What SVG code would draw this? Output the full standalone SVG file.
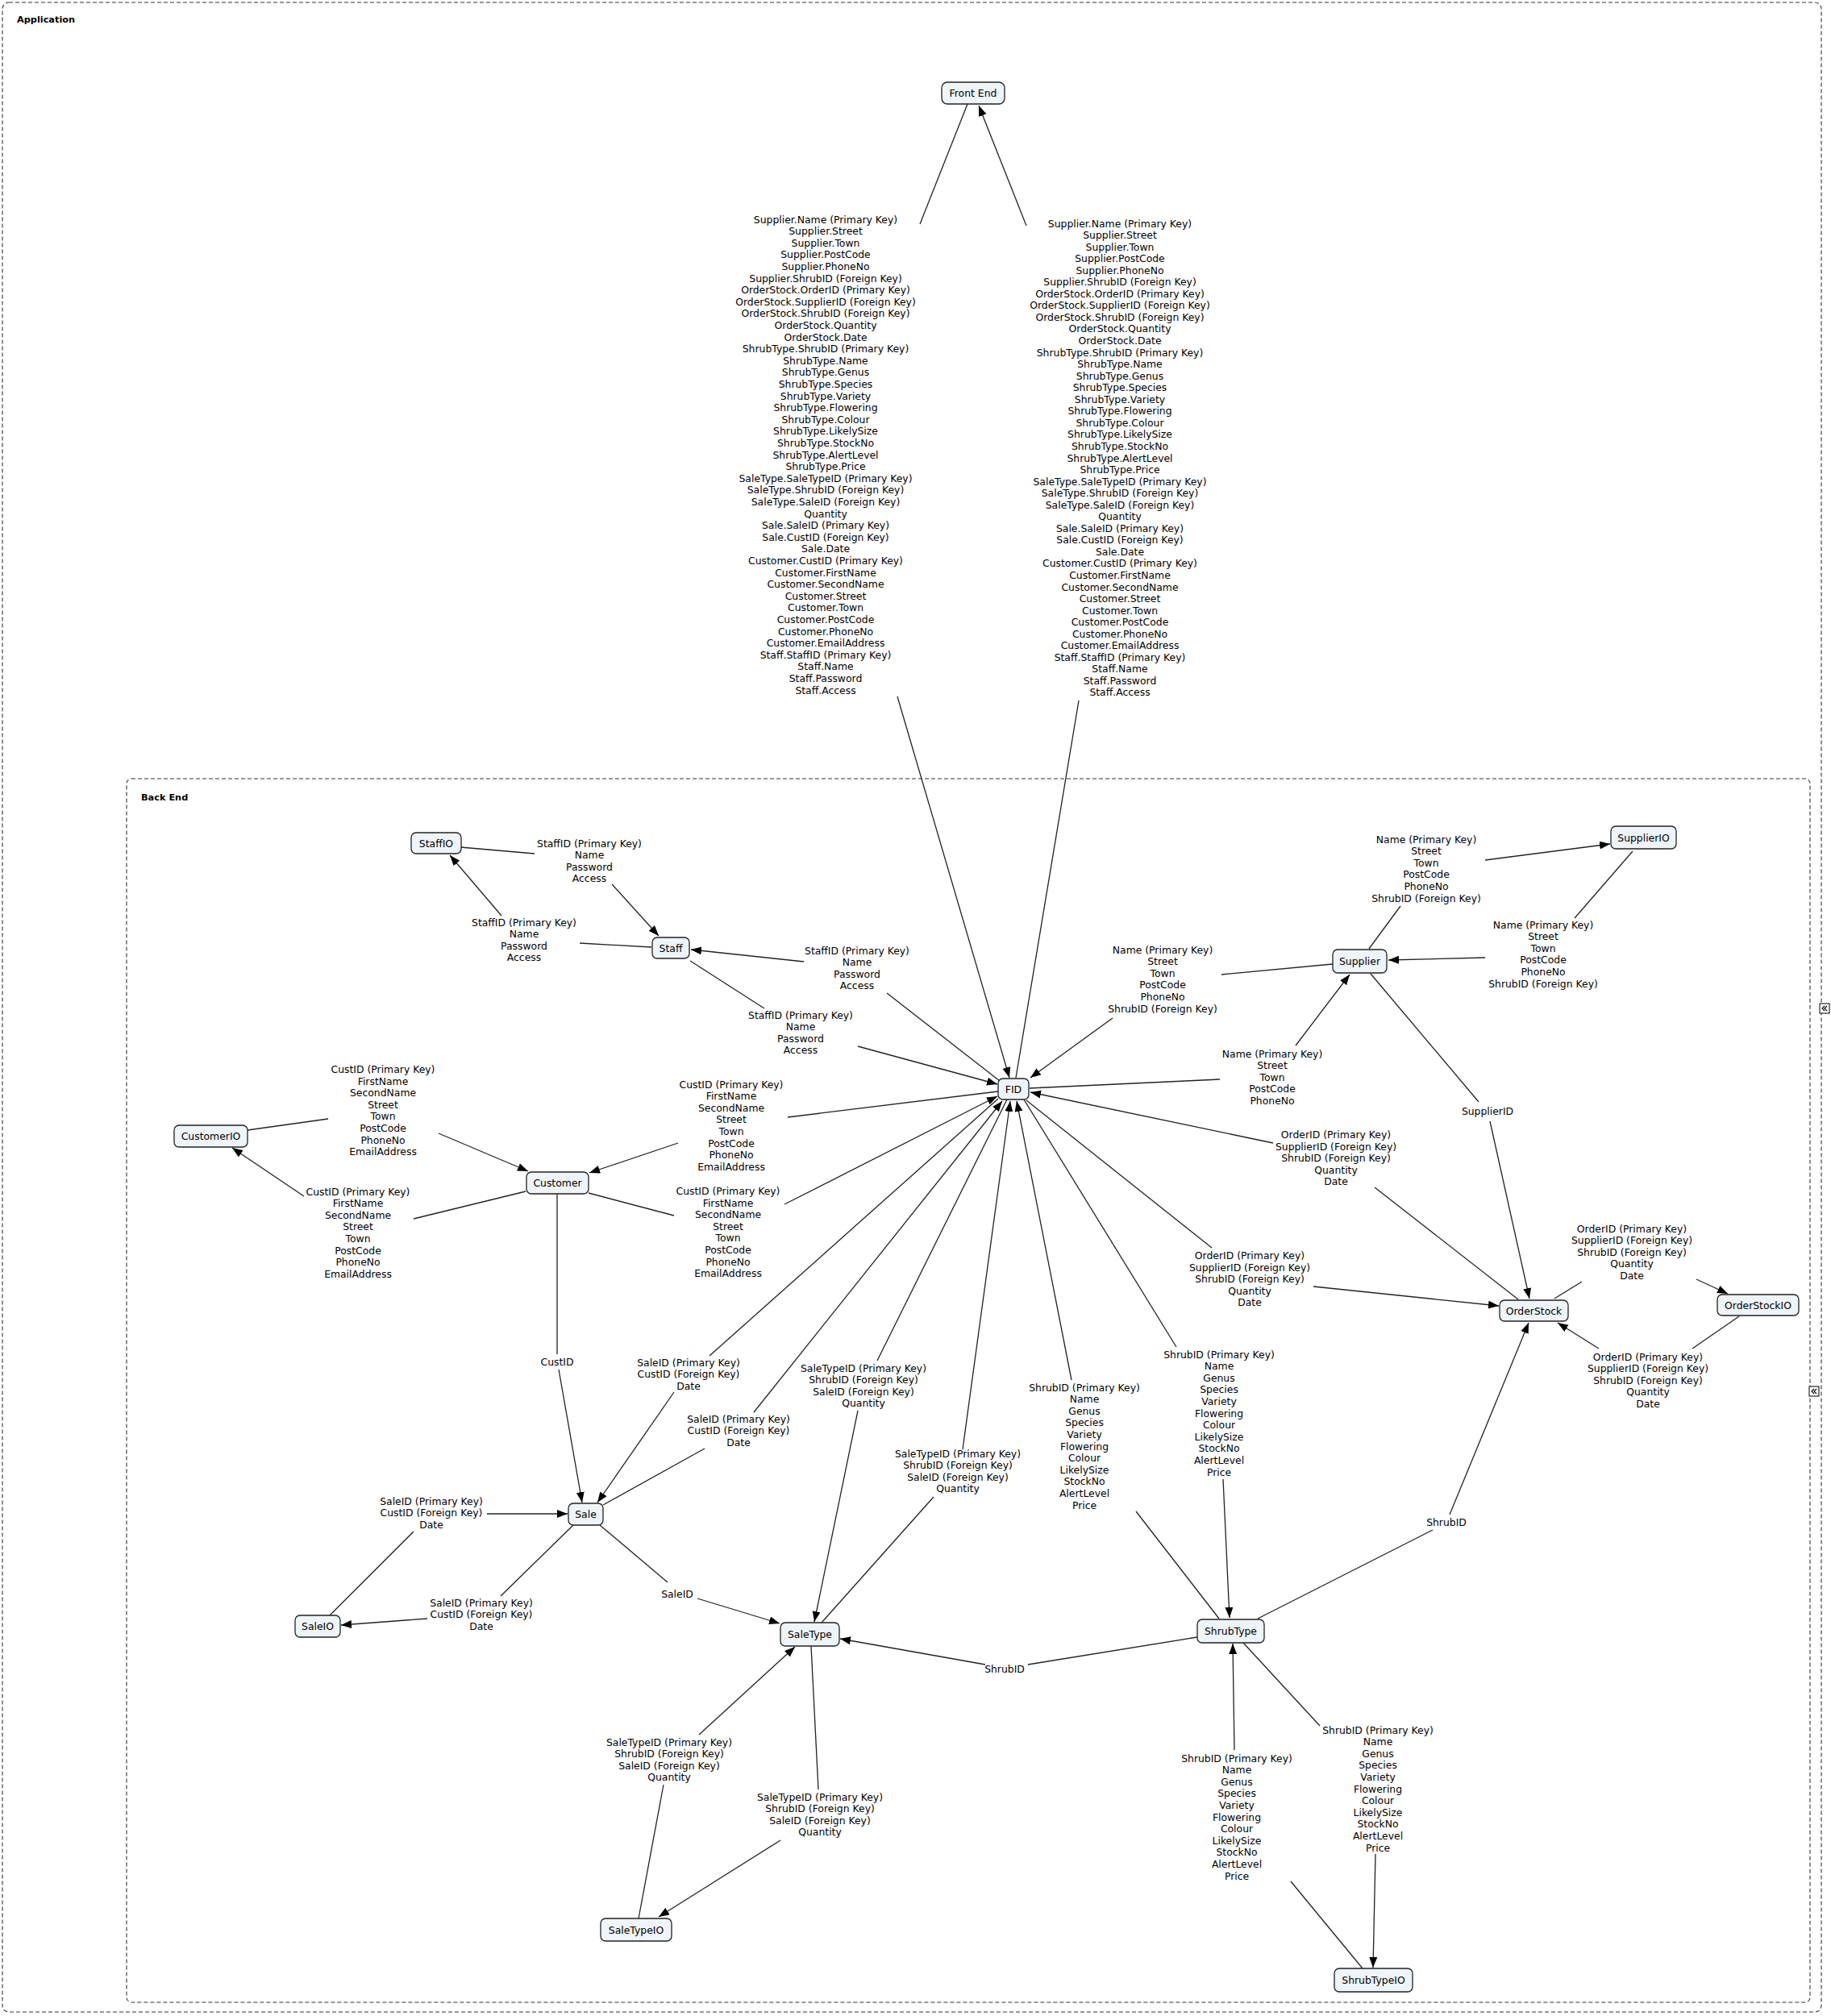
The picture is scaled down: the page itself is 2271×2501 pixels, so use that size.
<svg xmlns="http://www.w3.org/2000/svg" width="2271" height="2501" viewBox="0 0 2271 2501">
<style>
text{font-family:"DejaVu Sans","Liberation Sans",sans-serif;font-size:12.4px;fill:#000;text-anchor:middle}
.frame{fill:none;stroke:#333;stroke-width:1.1;stroke-dasharray:5,3}
.ft{font-weight:bold;font-size:11.3px;text-anchor:start}
.node rect{fill:#eef4f7;stroke:#222;stroke-width:1.3}
.c line{stroke:#222;stroke-width:1.3}
.a{marker-end:url(#ah)}
.ic{fill:#fff;stroke:#000;stroke-width:1}
.ch{fill:none;stroke:#000;stroke-width:1.1}
</style>
<defs>
<marker id="ah" markerUnits="userSpaceOnUse" markerWidth="14" markerHeight="11" refX="13" refY="5" orient="auto">
<path d="M0,0 L13,5 L0,10 z" fill="#000"/>
</marker>
</defs>
<rect fill="#fff" x="0" y="0" width="2271" height="2501"/>
<g id="frame-application">
<rect class="frame" x="3" y="3" width="2256" height="2493" rx="8"/>
<text class="ft" x="21" y="28">Application</text>
<rect class="ic" x="2257" y="1245" width="12" height="12"/>
<polyline class="ch" points="2263,1248 2260,1251 2263,1254"/>
<polyline class="ch" points="2266,1248 2263,1251 2266,1254"/>
</g>
<g id="frame-backend">
<rect class="frame" x="157" y="966" width="2088" height="1518" rx="6"/>
<text class="ft" x="175" y="993">Back End</text>
<rect class="ic" x="2244" y="1720" width="12" height="12"/>
<polyline class="ch" points="2250,1723 2247,1726 2250,1729"/>
<polyline class="ch" points="2253,1723 2250,1726 2253,1729"/>
</g>
<g id="connectors" class="c">
<line x1="1200" y1="129" x2="1141" y2="278"/>
<line class="a" x1="1113" y1="864" x2="1252" y2="1337"/>
<line x1="1260" y1="1337" x2="1338" y2="869"/>
<line class="a" x1="1273" y1="280" x2="1214" y2="131"/>
<line x1="571" y1="1051" x2="663" y2="1059"/>
<line class="a" x1="759" y1="1097" x2="817" y2="1161"/>
<line x1="808" y1="1175" x2="719" y2="1170"/>
<line class="a" x1="622" y1="1136" x2="558" y2="1061"/>
<line x1="1240" y1="1341" x2="1100" y2="1232"/>
<line class="a" x1="997" y1="1193" x2="857" y2="1178"/>
<line x1="856" y1="1192" x2="948" y2="1251"/>
<line class="a" x1="1064" y1="1298" x2="1237" y2="1345"/>
<line x1="1698" y1="1177" x2="1737" y2="1124"/>
<line class="a" x1="1842" y1="1067" x2="1997" y2="1047"/>
<line x1="2025" y1="1056" x2="1953" y2="1139"/>
<line class="a" x1="1842" y1="1188" x2="1722" y2="1191"/>
<line x1="1653" y1="1196" x2="1515" y2="1209"/>
<line class="a" x1="1380" y1="1263" x2="1278" y2="1337"/>
<line x1="1277" y1="1350" x2="1513" y2="1339"/>
<line class="a" x1="1607" y1="1297" x2="1674" y2="1209"/>
<line x1="1700" y1="1208" x2="1834" y2="1367"/>
<line class="a" x1="1848" y1="1391" x2="1897" y2="1611"/>
<line x1="1883" y1="1612" x2="1705" y2="1473"/>
<line class="a" x1="1579" y1="1418" x2="1278" y2="1355"/>
<line x1="1273" y1="1365" x2="1503" y2="1548"/>
<line class="a" x1="1629" y1="1596" x2="1859" y2="1620"/>
<line x1="1928" y1="1611" x2="1962" y2="1590"/>
<line class="a" x1="2104" y1="1587" x2="2143" y2="1605"/>
<line x1="2157" y1="1633" x2="2099" y2="1673"/>
<line class="a" x1="1983" y1="1673" x2="1932" y2="1641"/>
<line x1="1560" y1="2008" x2="1777" y2="1898"/>
<line class="a" x1="1798" y1="1879" x2="1896" y2="1641"/>
<line x1="1270" y1="1364" x2="1459" y2="1671"/>
<line class="a" x1="1517" y1="1835" x2="1525" y2="2007"/>
<line x1="1512" y1="2008" x2="1409" y2="1875"/>
<line class="a" x1="1329" y1="1712" x2="1261" y2="1366"/>
<line x1="307" y1="1402" x2="407" y2="1388"/>
<line class="a" x1="544" y1="1406" x2="655" y2="1453"/>
<line x1="652" y1="1478" x2="513" y2="1512"/>
<line class="a" x1="377" y1="1484" x2="288" y2="1424"/>
<line x1="1238" y1="1354" x2="977" y2="1386"/>
<line class="a" x1="841" y1="1418" x2="731" y2="1455"/>
<line x1="730" y1="1480" x2="836" y2="1508"/>
<line class="a" x1="973" y1="1494" x2="1237" y2="1360"/>
<line x1="691" y1="1481" x2="691" y2="1680"/>
<line class="a" x1="693" y1="1699" x2="722" y2="1864"/>
<line x1="1238" y1="1363" x2="880" y2="1682"/>
<line class="a" x1="836" y1="1727" x2="741" y2="1864"/>
<line x1="748" y1="1867" x2="874" y2="1797"/>
<line class="a" x1="935" y1="1752" x2="1243" y2="1366"/>
<line x1="409" y1="2004" x2="513" y2="1900"/>
<line class="a" x1="604" y1="1878" x2="704" y2="1878"/>
<line x1="711" y1="1892" x2="621" y2="1980"/>
<line class="a" x1="530" y1="2008" x2="423" y2="2016"/>
<line x1="744" y1="1892" x2="828" y2="1963"/>
<line class="a" x1="865" y1="1983" x2="967" y2="2014"/>
<line x1="1249" y1="1364" x2="1088" y2="1688"/>
<line class="a" x1="1064" y1="1750" x2="1010" y2="2012"/>
<line x1="1019" y1="2013" x2="1158" y2="1857"/>
<line class="a" x1="1194" y1="1798" x2="1253" y2="1366"/>
<line x1="1485" y1="2031" x2="1275" y2="2065"/>
<line class="a" x1="1222" y1="2065" x2="1042" y2="2033"/>
<line x1="792" y1="2380" x2="823" y2="2214"/>
<line class="a" x1="867" y1="2152" x2="986" y2="2043"/>
<line x1="1006" y1="2042" x2="1015" y2="2220"/>
<line class="a" x1="968" y1="2283" x2="817" y2="2378"/>
<line x1="1690" y1="2442" x2="1601" y2="2334"/>
<line class="a" x1="1531" y1="2171" x2="1529" y2="2039"/>
<line x1="1542" y1="2038" x2="1637" y2="2141"/>
<line class="a" x1="1706" y1="2300" x2="1703" y2="2441"/>
<g id="connector-labels">
<text x="1024" y="276.5"><tspan x="1024" dy="0">Supplier.Name (Primary Key)</tspan><tspan x="1024" dy="14.6">Supplier.Street</tspan><tspan x="1024" dy="14.6">Supplier.Town</tspan><tspan x="1024" dy="14.6">Supplier.PostCode</tspan><tspan x="1024" dy="14.6">Supplier.PhoneNo</tspan><tspan x="1024" dy="14.6">Supplier.ShrubID (Foreign Key)</tspan><tspan x="1024" dy="14.6">OrderStock.OrderID (Primary Key)</tspan><tspan x="1024" dy="14.6">OrderStock.SupplierID (Foreign Key)</tspan><tspan x="1024" dy="14.6">OrderStock.ShrubID (Foreign Key)</tspan><tspan x="1024" dy="14.6">OrderStock.Quantity</tspan><tspan x="1024" dy="14.6">OrderStock.Date</tspan><tspan x="1024" dy="14.6">ShrubType.ShrubID (Primary Key)</tspan><tspan x="1024" dy="14.6">ShrubType.Name</tspan><tspan x="1024" dy="14.6">ShrubType.Genus</tspan><tspan x="1024" dy="14.6">ShrubType.Species</tspan><tspan x="1024" dy="14.6">ShrubType.Variety</tspan><tspan x="1024" dy="14.6">ShrubType.Flowering</tspan><tspan x="1024" dy="14.6">ShrubType.Colour</tspan><tspan x="1024" dy="14.6">ShrubType.LikelySize</tspan><tspan x="1024" dy="14.6">ShrubType.StockNo</tspan><tspan x="1024" dy="14.6">ShrubType.AlertLevel</tspan><tspan x="1024" dy="14.6">ShrubType.Price</tspan><tspan x="1024" dy="14.6">SaleType.SaleTypeID (Primary Key)</tspan><tspan x="1024" dy="14.6">SaleType.ShrubID (Foreign Key)</tspan><tspan x="1024" dy="14.6">SaleType.SaleID (Foreign Key)</tspan><tspan x="1024" dy="14.6">Quantity</tspan><tspan x="1024" dy="14.6">Sale.SaleID (Primary Key)</tspan><tspan x="1024" dy="14.6">Sale.CustID (Foreign Key)</tspan><tspan x="1024" dy="14.6">Sale.Date</tspan><tspan x="1024" dy="14.6">Customer.CustID (Primary Key)</tspan><tspan x="1024" dy="14.6">Customer.FirstName</tspan><tspan x="1024" dy="14.6">Customer.SecondName</tspan><tspan x="1024" dy="14.6">Customer.Street</tspan><tspan x="1024" dy="14.6">Customer.Town</tspan><tspan x="1024" dy="14.6">Customer.PostCode</tspan><tspan x="1024" dy="14.6">Customer.PhoneNo</tspan><tspan x="1024" dy="14.6">Customer.EmailAddress</tspan><tspan x="1024" dy="14.6">Staff.StaffID (Primary Key)</tspan><tspan x="1024" dy="14.6">Staff.Name</tspan><tspan x="1024" dy="14.6">Staff.Password</tspan><tspan x="1024" dy="14.6">Staff.Access</tspan></text>
<text x="1389" y="281.5"><tspan x="1389" dy="0">Supplier.Name (Primary Key)</tspan><tspan x="1389" dy="14.55">Supplier.Street</tspan><tspan x="1389" dy="14.55">Supplier.Town</tspan><tspan x="1389" dy="14.55">Supplier.PostCode</tspan><tspan x="1389" dy="14.55">Supplier.PhoneNo</tspan><tspan x="1389" dy="14.55">Supplier.ShrubID (Foreign Key)</tspan><tspan x="1389" dy="14.55">OrderStock.OrderID (Primary Key)</tspan><tspan x="1389" dy="14.55">OrderStock.SupplierID (Foreign Key)</tspan><tspan x="1389" dy="14.55">OrderStock.ShrubID (Foreign Key)</tspan><tspan x="1389" dy="14.55">OrderStock.Quantity</tspan><tspan x="1389" dy="14.55">OrderStock.Date</tspan><tspan x="1389" dy="14.55">ShrubType.ShrubID (Primary Key)</tspan><tspan x="1389" dy="14.55">ShrubType.Name</tspan><tspan x="1389" dy="14.55">ShrubType.Genus</tspan><tspan x="1389" dy="14.55">ShrubType.Species</tspan><tspan x="1389" dy="14.55">ShrubType.Variety</tspan><tspan x="1389" dy="14.55">ShrubType.Flowering</tspan><tspan x="1389" dy="14.55">ShrubType.Colour</tspan><tspan x="1389" dy="14.55">ShrubType.LikelySize</tspan><tspan x="1389" dy="14.55">ShrubType.StockNo</tspan><tspan x="1389" dy="14.55">ShrubType.AlertLevel</tspan><tspan x="1389" dy="14.55">ShrubType.Price</tspan><tspan x="1389" dy="14.55">SaleType.SaleTypeID (Primary Key)</tspan><tspan x="1389" dy="14.55">SaleType.ShrubID (Foreign Key)</tspan><tspan x="1389" dy="14.55">SaleType.SaleID (Foreign Key)</tspan><tspan x="1389" dy="14.55">Quantity</tspan><tspan x="1389" dy="14.55">Sale.SaleID (Primary Key)</tspan><tspan x="1389" dy="14.55">Sale.CustID (Foreign Key)</tspan><tspan x="1389" dy="14.55">Sale.Date</tspan><tspan x="1389" dy="14.55">Customer.CustID (Primary Key)</tspan><tspan x="1389" dy="14.55">Customer.FirstName</tspan><tspan x="1389" dy="14.55">Customer.SecondName</tspan><tspan x="1389" dy="14.55">Customer.Street</tspan><tspan x="1389" dy="14.55">Customer.Town</tspan><tspan x="1389" dy="14.55">Customer.PostCode</tspan><tspan x="1389" dy="14.55">Customer.PhoneNo</tspan><tspan x="1389" dy="14.55">Customer.EmailAddress</tspan><tspan x="1389" dy="14.55">Staff.StaffID (Primary Key)</tspan><tspan x="1389" dy="14.55">Staff.Name</tspan><tspan x="1389" dy="14.55">Staff.Password</tspan><tspan x="1389" dy="14.55">Staff.Access</tspan></text>
<text x="731" y="1050.5"><tspan x="731" dy="0">StaffID (Primary Key)</tspan><tspan x="731" dy="14.6">Name</tspan><tspan x="731" dy="14.6">Password</tspan><tspan x="731" dy="14.6">Access</tspan></text>
<text x="650" y="1148.5"><tspan x="650" dy="0">StaffID (Primary Key)</tspan><tspan x="650" dy="14.6">Name</tspan><tspan x="650" dy="14.6">Password</tspan><tspan x="650" dy="14.6">Access</tspan></text>
<text x="1063" y="1183.5"><tspan x="1063" dy="0">StaffID (Primary Key)</tspan><tspan x="1063" dy="14.6">Name</tspan><tspan x="1063" dy="14.6">Password</tspan><tspan x="1063" dy="14.6">Access</tspan></text>
<text x="993" y="1263.5"><tspan x="993" dy="0">StaffID (Primary Key)</tspan><tspan x="993" dy="14.6">Name</tspan><tspan x="993" dy="14.6">Password</tspan><tspan x="993" dy="14.6">Access</tspan></text>
<text x="1769" y="1045.5"><tspan x="1769" dy="0">Name (Primary Key)</tspan><tspan x="1769" dy="14.6">Street</tspan><tspan x="1769" dy="14.6">Town</tspan><tspan x="1769" dy="14.6">PostCode</tspan><tspan x="1769" dy="14.6">PhoneNo</tspan><tspan x="1769" dy="14.6">ShrubID (Foreign Key)</tspan></text>
<text x="1914" y="1151.5"><tspan x="1914" dy="0">Name (Primary Key)</tspan><tspan x="1914" dy="14.6">Street</tspan><tspan x="1914" dy="14.6">Town</tspan><tspan x="1914" dy="14.6">PostCode</tspan><tspan x="1914" dy="14.6">PhoneNo</tspan><tspan x="1914" dy="14.6">ShrubID (Foreign Key)</tspan></text>
<text x="1442" y="1182.5"><tspan x="1442" dy="0">Name (Primary Key)</tspan><tspan x="1442" dy="14.6">Street</tspan><tspan x="1442" dy="14.6">Town</tspan><tspan x="1442" dy="14.6">PostCode</tspan><tspan x="1442" dy="14.6">PhoneNo</tspan><tspan x="1442" dy="14.6">ShrubID (Foreign Key)</tspan></text>
<text x="1578" y="1311.5"><tspan x="1578" dy="0">Name (Primary Key)</tspan><tspan x="1578" dy="14.6">Street</tspan><tspan x="1578" dy="14.6">Town</tspan><tspan x="1578" dy="14.6">PostCode</tspan><tspan x="1578" dy="14.6">PhoneNo</tspan></text>
<text x="1845" y="1382.5">SupplierID</text>
<text x="1657" y="1412"><tspan x="1657" dy="0">OrderID (Primary Key)</tspan><tspan x="1657" dy="14.6">SupplierID (Foreign Key)</tspan><tspan x="1657" dy="14.6">ShrubID (Foreign Key)</tspan><tspan x="1657" dy="14.6">Quantity</tspan><tspan x="1657" dy="14.6">Date</tspan></text>
<text x="1550" y="1562"><tspan x="1550" dy="0">OrderID (Primary Key)</tspan><tspan x="1550" dy="14.6">SupplierID (Foreign Key)</tspan><tspan x="1550" dy="14.6">ShrubID (Foreign Key)</tspan><tspan x="1550" dy="14.6">Quantity</tspan><tspan x="1550" dy="14.6">Date</tspan></text>
<text x="2024" y="1528.5"><tspan x="2024" dy="0">OrderID (Primary Key)</tspan><tspan x="2024" dy="14.6">SupplierID (Foreign Key)</tspan><tspan x="2024" dy="14.6">ShrubID (Foreign Key)</tspan><tspan x="2024" dy="14.6">Quantity</tspan><tspan x="2024" dy="14.6">Date</tspan></text>
<text x="2044" y="1687.5"><tspan x="2044" dy="0">OrderID (Primary Key)</tspan><tspan x="2044" dy="14.6">SupplierID (Foreign Key)</tspan><tspan x="2044" dy="14.6">ShrubID (Foreign Key)</tspan><tspan x="2044" dy="14.6">Quantity</tspan><tspan x="2044" dy="14.6">Date</tspan></text>
<text x="1794" y="1892.5">ShrubID</text>
<text x="1512" y="1684.5"><tspan x="1512" dy="0">ShrubID (Primary Key)</tspan><tspan x="1512" dy="14.6">Name</tspan><tspan x="1512" dy="14.6">Genus</tspan><tspan x="1512" dy="14.6">Species</tspan><tspan x="1512" dy="14.6">Variety</tspan><tspan x="1512" dy="14.6">Flowering</tspan><tspan x="1512" dy="14.6">Colour</tspan><tspan x="1512" dy="14.6">LikelySize</tspan><tspan x="1512" dy="14.6">StockNo</tspan><tspan x="1512" dy="14.6">AlertLevel</tspan><tspan x="1512" dy="14.6">Price</tspan></text>
<text x="1345" y="1725.5"><tspan x="1345" dy="0">ShrubID (Primary Key)</tspan><tspan x="1345" dy="14.6">Name</tspan><tspan x="1345" dy="14.6">Genus</tspan><tspan x="1345" dy="14.6">Species</tspan><tspan x="1345" dy="14.6">Variety</tspan><tspan x="1345" dy="14.6">Flowering</tspan><tspan x="1345" dy="14.6">Colour</tspan><tspan x="1345" dy="14.6">LikelySize</tspan><tspan x="1345" dy="14.6">StockNo</tspan><tspan x="1345" dy="14.6">AlertLevel</tspan><tspan x="1345" dy="14.6">Price</tspan></text>
<text x="1534" y="2185.5"><tspan x="1534" dy="0">ShrubID (Primary Key)</tspan><tspan x="1534" dy="14.6">Name</tspan><tspan x="1534" dy="14.6">Genus</tspan><tspan x="1534" dy="14.6">Species</tspan><tspan x="1534" dy="14.6">Variety</tspan><tspan x="1534" dy="14.6">Flowering</tspan><tspan x="1534" dy="14.6">Colour</tspan><tspan x="1534" dy="14.6">LikelySize</tspan><tspan x="1534" dy="14.6">StockNo</tspan><tspan x="1534" dy="14.6">AlertLevel</tspan><tspan x="1534" dy="14.6">Price</tspan></text>
<text x="1709" y="2150.5"><tspan x="1709" dy="0">ShrubID (Primary Key)</tspan><tspan x="1709" dy="14.6">Name</tspan><tspan x="1709" dy="14.6">Genus</tspan><tspan x="1709" dy="14.6">Species</tspan><tspan x="1709" dy="14.6">Variety</tspan><tspan x="1709" dy="14.6">Flowering</tspan><tspan x="1709" dy="14.6">Colour</tspan><tspan x="1709" dy="14.6">LikelySize</tspan><tspan x="1709" dy="14.6">StockNo</tspan><tspan x="1709" dy="14.6">AlertLevel</tspan><tspan x="1709" dy="14.6">Price</tspan></text>
<text x="475" y="1331"><tspan x="475" dy="0">CustID (Primary Key)</tspan><tspan x="475" dy="14.6">FirstName</tspan><tspan x="475" dy="14.6">SecondName</tspan><tspan x="475" dy="14.6">Street</tspan><tspan x="475" dy="14.6">Town</tspan><tspan x="475" dy="14.6">PostCode</tspan><tspan x="475" dy="14.6">PhoneNo</tspan><tspan x="475" dy="14.6">EmailAddress</tspan></text>
<text x="444" y="1482.5"><tspan x="444" dy="0">CustID (Primary Key)</tspan><tspan x="444" dy="14.6">FirstName</tspan><tspan x="444" dy="14.6">SecondName</tspan><tspan x="444" dy="14.6">Street</tspan><tspan x="444" dy="14.6">Town</tspan><tspan x="444" dy="14.6">PostCode</tspan><tspan x="444" dy="14.6">PhoneNo</tspan><tspan x="444" dy="14.6">EmailAddress</tspan></text>
<text x="907" y="1349.5"><tspan x="907" dy="0">CustID (Primary Key)</tspan><tspan x="907" dy="14.6">FirstName</tspan><tspan x="907" dy="14.6">SecondName</tspan><tspan x="907" dy="14.6">Street</tspan><tspan x="907" dy="14.6">Town</tspan><tspan x="907" dy="14.6">PostCode</tspan><tspan x="907" dy="14.6">PhoneNo</tspan><tspan x="907" dy="14.6">EmailAddress</tspan></text>
<text x="903" y="1482"><tspan x="903" dy="0">CustID (Primary Key)</tspan><tspan x="903" dy="14.6">FirstName</tspan><tspan x="903" dy="14.6">SecondName</tspan><tspan x="903" dy="14.6">Street</tspan><tspan x="903" dy="14.6">Town</tspan><tspan x="903" dy="14.6">PostCode</tspan><tspan x="903" dy="14.6">PhoneNo</tspan><tspan x="903" dy="14.6">EmailAddress</tspan></text>
<text x="691" y="1693.5">CustID</text>
<text x="854" y="1694.5"><tspan x="854" dy="0">SaleID (Primary Key)</tspan><tspan x="854" dy="14.6">CustID (Foreign Key)</tspan><tspan x="854" dy="14.6">Date</tspan></text>
<text x="916" y="1764.5"><tspan x="916" dy="0">SaleID (Primary Key)</tspan><tspan x="916" dy="14.6">CustID (Foreign Key)</tspan><tspan x="916" dy="14.6">Date</tspan></text>
<text x="535" y="1866.5"><tspan x="535" dy="0">SaleID (Primary Key)</tspan><tspan x="535" dy="14.6">CustID (Foreign Key)</tspan><tspan x="535" dy="14.6">Date</tspan></text>
<text x="597" y="1992.5"><tspan x="597" dy="0">SaleID (Primary Key)</tspan><tspan x="597" dy="14.6">CustID (Foreign Key)</tspan><tspan x="597" dy="14.6">Date</tspan></text>
<text x="840" y="1981.5">SaleID</text>
<text x="1071" y="1701.5"><tspan x="1071" dy="0">SaleTypeID (Primary Key)</tspan><tspan x="1071" dy="14.6">ShrubID (Foreign Key)</tspan><tspan x="1071" dy="14.6">SaleID (Foreign Key)</tspan><tspan x="1071" dy="14.6">Quantity</tspan></text>
<text x="1188" y="1807.5"><tspan x="1188" dy="0">SaleTypeID (Primary Key)</tspan><tspan x="1188" dy="14.6">ShrubID (Foreign Key)</tspan><tspan x="1188" dy="14.6">SaleID (Foreign Key)</tspan><tspan x="1188" dy="14.6">Quantity</tspan></text>
<text x="830" y="2165.5"><tspan x="830" dy="0">SaleTypeID (Primary Key)</tspan><tspan x="830" dy="14.6">ShrubID (Foreign Key)</tspan><tspan x="830" dy="14.6">SaleID (Foreign Key)</tspan><tspan x="830" dy="14.6">Quantity</tspan></text>
<text x="1017" y="2233.5"><tspan x="1017" dy="0">SaleTypeID (Primary Key)</tspan><tspan x="1017" dy="14.6">ShrubID (Foreign Key)</tspan><tspan x="1017" dy="14.6">SaleID (Foreign Key)</tspan><tspan x="1017" dy="14.6">Quantity</tspan></text>
<text x="1246" y="2075">ShrubID</text>
</g>
</g>
<g id="node-frontend" class="node"><rect x="1168" y="102" width="78" height="27" rx="7"/><text x="1207" y="120">Front End</text></g>
<g id="node-fid" class="node"><rect x="1238" y="1338" width="38" height="26" rx="6"/><text x="1257" y="1355.5">FID</text></g>
<g id="node-staffio" class="node"><rect x="510" y="1033" width="62" height="26" rx="6"/><text x="541" y="1050.5">StaffIO</text></g>
<g id="node-staff" class="node"><rect x="809" y="1163" width="46" height="26" rx="6"/><text x="832" y="1180.5">Staff</text></g>
<g id="node-supplier" class="node"><rect x="1653" y="1178" width="67" height="29" rx="6"/><text x="1686.5" y="1197">Supplier</text></g>
<g id="node-supplierio" class="node"><rect x="1998" y="1025" width="81" height="28" rx="6"/><text x="2038.5" y="1043.5">SupplierIO</text></g>
<g id="node-customerio" class="node"><rect x="216" y="1396" width="91" height="27" rx="6"/><text x="261.5" y="1414">CustomerIO</text></g>
<g id="node-customer" class="node"><rect x="653" y="1454" width="77" height="27" rx="6"/><text x="691.5" y="1472">Customer</text></g>
<g id="node-orderstock" class="node"><rect x="1860" y="1613" width="85" height="26" rx="6"/><text x="1902.5" y="1630.5">OrderStock</text></g>
<g id="node-orderstockio" class="node"><rect x="2130" y="1606" width="101" height="26" rx="6"/><text x="2180.5" y="1623.5">OrderStockIO</text></g>
<g id="node-sale" class="node"><rect x="705" y="1865" width="43" height="27" rx="6"/><text x="726.5" y="1883">Sale</text></g>
<g id="node-saleio" class="node"><rect x="366" y="2004" width="56" height="27" rx="6"/><text x="394" y="2022">SaleIO</text></g>
<g id="node-saletype" class="node"><rect x="968" y="2013" width="73" height="29" rx="6"/><text x="1004.5" y="2032">SaleType</text></g>
<g id="node-shrubtype" class="node"><rect x="1485" y="2009" width="83" height="29" rx="6"/><text x="1526.5" y="2028">ShrubType</text></g>
<g id="node-saletypeio" class="node"><rect x="745" y="2380" width="88" height="28" rx="6"/><text x="789" y="2398.5">SaleTypeIO</text></g>
<g id="node-shrubtypeio" class="node"><rect x="1655" y="2442" width="97" height="29" rx="6"/><text x="1703.5" y="2461">ShrubTypeIO</text></g>
</svg>
